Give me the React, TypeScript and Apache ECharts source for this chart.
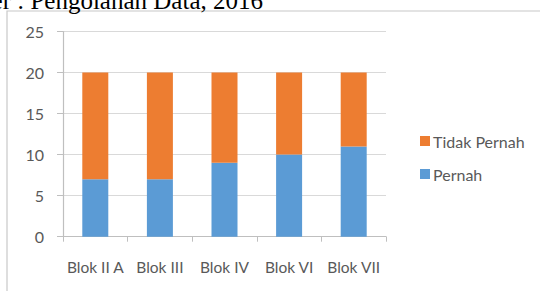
import React, { useEffect, useRef } from "react";
import * as echarts from "echarts";

const categories = ["Blok II A", "Blok III", "Blok IV", "Blok VI", "Blok VII"];
const pernah = [7, 7, 9, 10, 11];
const tidakPernah = [13, 13, 11, 10, 9];
const sourceText = "Sumber : Pengolahan Data, 2016";

export default function App() {
  const ref = useRef<HTMLDivElement>(null);
  useEffect(() => {
    if (!ref.current) return;
    const chart = echarts.init(ref.current, null, { renderer: "svg" });
    const font = "Lato";
    chart.setOption({
      animation: false,
      backgroundColor: "#ffffff",
      graphic: [
        {
          type: "rect",
          shape: { x: 7, y: 11, width: 700, height: 400 },
          style: { fill: "none", stroke: "#c8c8c8", lineWidth: 1.2 },
          silent: true,
          z: 0,
        },
        {
          type: "text",
          x: 263,
          y: 12.5,
          style: {
            text: sourceText,
            font: "25px 'Liberation Serif'",
            fill: "#000000",
            textAlign: "right",
            textVerticalAlign: "bottom",
          },
          z: 10,
        },
      ],
      grid: { left: 63, right: 154, top: 31.5, bottom: 54.3, containLabel: false },
      legend: {
        orient: "vertical",
        left: 415,
        top: 128,
        itemWidth: 10,
        itemHeight: 10,
        itemGap: 17,
        icon: "rect",
        data: ["Tidak Pernah", "Pernah"],
        textStyle: { fontFamily: font, fontSize: 16, color: "#595959", padding: [0, 0, 0, -2] },
      },
      xAxis: {
        type: "category",
        data: categories,
        axisLine: { lineStyle: { color: "#bfbfbf", width: 1.2 } },
        axisTick: { show: true, length: 5, lineStyle: { color: "#bfbfbf" } },
        axisLabel: {
          fontFamily: font,
          fontSize: 15.5,
          color: "#595959",
          margin: 22,
          interval: 0,
          hideOverlap: false,
        },
      },
      yAxis: {
        type: "value",
        min: 0,
        max: 25,
        interval: 5,
        axisLine: { show: true, lineStyle: { color: "#bfbfbf", width: 1.2 } },
        axisTick: { show: true, length: 6, lineStyle: { color: "#bfbfbf" } },
        splitLine: { lineStyle: { color: "#d9d9d9", width: 1.2 } },
        axisLabel: { fontFamily: font, fontSize: 16, color: "#595959", margin: 19 },
      },
      series: [
        {
          name: "Pernah",
          type: "bar",
          stack: "total",
          data: pernah,
          barWidth: 26,
          itemStyle: { color: "#5b9bd5" },
        },
        {
          name: "Tidak Pernah",
          type: "bar",
          stack: "total",
          data: tidakPernah,
          barWidth: 26,
          itemStyle: { color: "#ed7d31" },
        },
      ],
    });
    return () => chart.dispose();
  }, []);
  return (
    <div
      ref={ref}
      style={{ position: "fixed", left: 0, top: 0, width: 540, height: 291 }}
    />
  );
}
